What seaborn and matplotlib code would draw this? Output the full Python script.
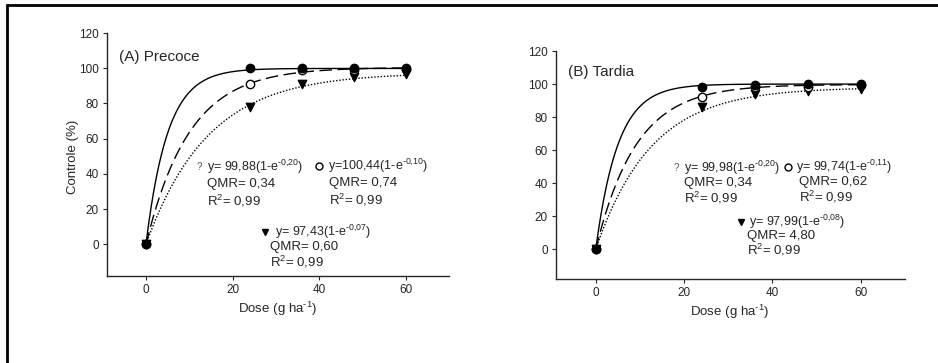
import numpy as np
import pandas as pd
import matplotlib
matplotlib.use("Agg")
import matplotlib.pyplot as plt
from matplotlib.lines import Line2D
import seaborn as sns

# observed control (%) per dose
doses = [0, 24, 36, 48, 60]
precoce_fechado = [0, 100, 100, 100, 99.6]
precoce_aberto = [0, 91, 99, 99, 100]
precoce_triangulo = [0, 78, 91, 95, 97]
tardia_fechado = [0, 98, 99.5, 100, 100]
tardia_aberto = [0, 92, 98.5, 98.5, 99.5]
tardia_triangulo = [0, 86, 94, 95.5, 97]

# fitted model y = a(1 - e^(-b x)) for each series
precoce_a = [99.88, 100.44, 97.43]
precoce_b = [0.20, 0.10, 0.07]
tardia_a = [99.98, 99.74, 97.99]
tardia_b = [0.20, 0.11, 0.08]

W, H = 938, 363


def fx(px):
    return px / W


def fy(py):
    return 1 - py / H


sns.set_style("ticks")
plt.rcParams['font.family'] = ['Liberation Sans', 'DejaVu Sans']
plt.rcParams['mathtext.fontset'] = 'custom'
plt.rcParams['mathtext.rm'] = 'Liberation Sans'
plt.rcParams['mathtext.it'] = 'Liberation Sans'

fig = plt.figure(figsize=(W / 100, H / 100), dpi=100)
ax_a = fig.add_axes([fx(107), fy(276), fx(449) - fx(107), fy(33) - fy(276)])
ax_b = fig.add_axes([fx(556), fy(279), fx(905) - fx(556), fy(51) - fy(279)])

line_styles = ['-', (0, (9, 4)), (0, (1, 1.3))]
markers = ['o', 'o', 'v']
faces = ['black', 'white', 'black']


def draw_panel(ax, series, a_vals, b_vals):
    xs = np.linspace(0, 60, 300)
    for i in range(3):
        curve = pd.DataFrame({'x': xs, 'y': a_vals[i] * (1 - np.exp(-b_vals[i] * xs))})
        sns.lineplot(data=curve, x='x', y='y', ax=ax, color='black',
                     linestyle=line_styles[i], linewidth=1.0)
    for i in [2, 1, 0]:
        pts = pd.DataFrame({'x': doses, 'y': series[i]})
        sns.scatterplot(data=pts, x='x', y='y', ax=ax, marker=markers[i],
                        color=faces[i], edgecolor='black', linewidth=1.0,
                        s=36, zorder=5)
    ax.set_xlim(-9, 70)
    ax.set_ylim(-18, 120)
    ax.set_xticks([0, 20, 40, 60])
    ax.set_yticks([0, 20, 40, 60, 80, 100, 120])
    ax.tick_params(labelsize=8.5, length=3, width=0.8, direction='out', pad=3)
    for s in ['left', 'bottom']:
        ax.spines[s].set_linewidth(1.0)
    sns.despine(ax=ax)
    ax.set_xlabel('')
    ax.set_ylabel('')


draw_panel(ax_a, [precoce_fechado, precoce_aberto, precoce_triangulo], precoce_a, precoce_b)
draw_panel(ax_b, [tardia_fechado, tardia_aberto, tardia_triangulo], tardia_a, tardia_b)

fs = 9.5
fs_eq = 9
fig.text(fx(119), fy(57), '(A) Precoce', fontsize=11, va='center')
fig.text(fx(568), fy(72), '(B) Tardia', fontsize=11, va='center')
fig.text(fx(73), fy(157), 'Controle (%)', fontsize=9.5, rotation=90, ha='center', va='center')
fig.text(fx(278), fy(309), r'Dose (g ha$^{\text{-1}}$)', fontsize=9.5, ha='center', va='center')
fig.text(fx(730), fy(312), r'Dose (g ha$^{\text{-1}}$)', fontsize=9.5, ha='center', va='center')


def eq_block(x_mark, x_txt, x_sub, y0, dy, mark, eq, qmr, r2):
    if mark == '?':
        fig.text(fx(x_mark), fy(y0), '?', fontsize=7, color='#555555', ha='center', va='center')
    else:
        fig.add_artist(Line2D([fx(x_mark)], [fy(y0)], marker=mark[0], markersize=5,
                              markerfacecolor=mark[1], markeredgecolor='black',
                              markeredgewidth=1.0, linestyle='none'))
    fig.text(fx(x_txt), fy(y0), eq, fontsize=fs_eq, va='center')
    fig.text(fx(x_sub), fy(y0 + dy), qmr, fontsize=fs, va='center')
    fig.text(fx(x_sub), fy(y0 + 2 * dy), r2, fontsize=fs, va='center')


# panel A equations
eq_block(199, 207, 207, 167, 17, '?', r'y= 99,88(1-e$^{\text{-0,20}}$)', 'QMR= 0,34', r'R$^{\text{2}}$= 0,99')
eq_block(319, 328, 329, 166, 17, ('o', 'white'), r'y=100,44(1-e$^{\text{-0,10}}$)', 'QMR= 0,74', r'R$^{\text{2}}$= 0,99')
eq_block(265, 275, 270, 232, 15, ('v', 'black'), r'y= 97,43(1-e$^{\text{-0,07}}$)', 'QMR= 0,60', r'R$^{\text{2}}$= 0,99')

# panel B equations
eq_block(676, 684, 684, 168, 15, '?', r'y= 99,98(1-e$^{\text{-0,20}}$)', 'QMR= 0,34', r'R$^{\text{2}}$= 0,99')
eq_block(788, 796, 799, 167, 15, ('o', 'white'), r'y= 99,74(1-e$^{\text{-0,11}}$)', 'QMR= 0,62', r'R$^{\text{2}}$= 0,99')
eq_block(741, 749, 747, 222, 14, ('v', 'black'), r'y= 97,99(1-e$^{\text{-0,08}}$)', 'QMR= 4,80', r'R$^{\text{2}}$= 0,99')

# outer frame (top and left edges)
fig.add_artist(Line2D([fx(7), 1.0], [fy(4.5), fy(4.5)], color='black', linewidth=2.0))
fig.add_artist(Line2D([fx(7), fx(7)], [0.0, fy(4.5)], color='black', linewidth=2.0))

plt.savefig('out.png', dpi=100)
